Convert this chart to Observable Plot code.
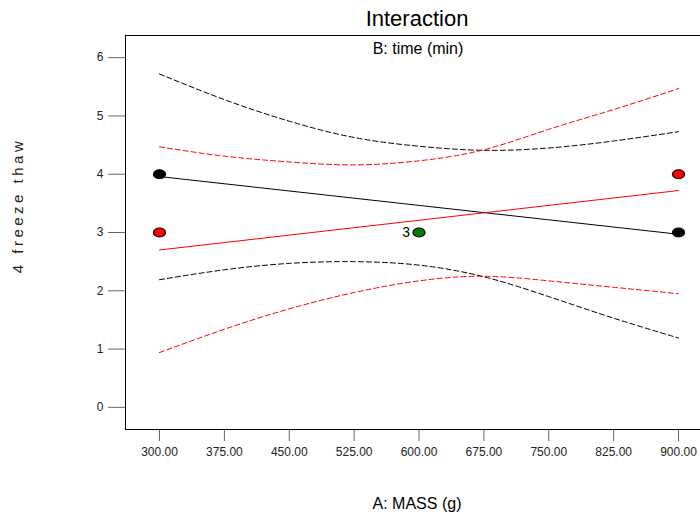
<!DOCTYPE html>
<html>
<head>
<meta charset="utf-8">
<script src="https://cdn.jsdelivr.net/npm/d3@7"></script>
<script src="https://cdn.jsdelivr.net/npm/@observablehq/plot@0.6"></script>
<style>
  html, body { margin: 0; padding: 0; background: #fff; }
  #chart { width: 700px; height: 515px; }
</style>
</head>
<body>
<div id="chart"></div>
<script>
// ---- data ----
const titleText = "Interaction";
const subtitleText = "B: time (min)";
const xLabelText = "A: MASS (g)";
const yLabelText = "4 freeze thaw";

const massTicks = [300, 375, 450, 525, 600, 675, 750, 825, 900];
const responseTicks = [0, 1, 2, 3, 4, 5, 6];

// fitted lines (B- black, B+ red)
const fitMass = [300, 900];
const fitBLow = [3.96, 2.97];
const fitBHigh = [2.70, 3.72];

// confidence bands, read at the tick positions
const bandMass = [300, 375, 450, 525, 600, 675, 750, 825, 900];
const bLowUpper = [5.72, 5.28, 4.91, 4.63, 4.48, 4.41, 4.45, 4.57, 4.73];
const bLowLower = [2.19, 2.36, 2.47, 2.50, 2.44, 2.24, 1.90, 1.53, 1.19];
const bHighUpper = [4.47, 4.31, 4.21, 4.16, 4.23, 4.42, 4.77, 5.11, 5.47];
const bHighLower = [0.94, 1.34, 1.69, 1.97, 2.17, 2.25, 2.17, 2.06, 1.95];

// design points
const obsMass = [300, 900];
const obsBLow = [4, 3];
const obsBHigh = [3, 4];
const centerMass = [600];
const centerValue = [3];
const centerCount = ["3"];

// ---- build tables ----
const xDomain = [260.7, 925.4];
const yDomain = [-0.38, 6.38];

const fitTable = [
  ...fitMass.map((m, i) => ({mass: m, value: fitBLow[i], series: "low"})),
  ...fitMass.map((m, i) => ({mass: m, value: fitBHigh[i], series: "high"}))
];
const bandTable = [];
[[bLowUpper, "lowU", "low"], [bLowLower, "lowL", "low"], [bHighUpper, "highU", "high"], [bHighLower, "highL", "high"]]
  .forEach(([arr, id, grp]) => arr.forEach((v, i) => bandTable.push({mass: bandMass[i], value: v, id, grp})));
const obsTable = [
  ...obsMass.map((m, i) => ({mass: m, value: obsBLow[i], grp: "low"})),
  ...obsMass.map((m, i) => ({mass: m, value: obsBHigh[i], grp: "high"}))
];
const centerTable = centerMass.map((m, i) => ({mass: m, value: centerValue[i], label: centerCount[i]}));

const colorOf = g => g === "low" ? "#000000" : "#ff0000";

const svg = Plot.plot({
  width: 700,
  height: 515,
  marginLeft: 125,
  marginRight: 0,
  marginTop: 35,
  marginBottom: 86,
  style: {fontFamily: "'Liberation Sans', Arial, sans-serif", fontSize: "12px", background: "#fff", color: "#222"},
  x: {domain: xDomain},
  y: {domain: yDomain},
  marks: [
    Plot.axisX(massTicks, {tickSize: 12, tickPadding: 6, tickFormat: d => d.toFixed(2), stroke: "#666", fill: "#222", label: null, fontSize: 12}),
    Plot.axisY(responseTicks, {tickSize: 17, tickPadding: 5, tickFormat: d => String(d), stroke: "#666", fill: "#222", label: null, fontSize: 12}),
    Plot.ruleX([xDomain[0]], {stroke: "#000"}),
    Plot.ruleY([yDomain[0], yDomain[1]], {stroke: "#000"}),
    Plot.line(bandTable, {x: "mass", y: "value", z: "id", stroke: d => colorOf(d.grp), strokeWidth: 1, strokeDasharray: "5,3", curve: "natural"}),
    Plot.line(fitTable, {x: "mass", y: "value", z: "series", stroke: d => colorOf(d.series), strokeWidth: 1}),
    Plot.dot(obsTable, {x: "mass", y: "value", r: 5, fill: d => colorOf(d.grp), stroke: "#000", strokeWidth: 1}),
    Plot.dot(centerTable, {x: "mass", y: "value", r: 5, fill: "#008000", stroke: "#000", strokeWidth: 1}),
    Plot.text(centerTable, {x: "mass", y: "value", text: "label", dx: -9, textAnchor: "end", fontSize: 14, fill: "#000"}),
    Plot.text([titleText], {frameAnchor: "top", dy: -17, dx: 4, lineAnchor: "middle", textAnchor: "middle", fontSize: 22, fill: "#000"}),
    Plot.text([subtitleText], {frameAnchor: "top", dy: 13, dx: 5, lineAnchor: "middle", textAnchor: "middle", fontSize: 16, fill: "#000"}),
    Plot.text([xLabelText], {frameAnchor: "bottom", dy: 74, dx: 4, lineAnchor: "middle", textAnchor: "middle", fontSize: 16, fill: "#000"}),
    Plot.text([yLabelText], {frameAnchor: "left", dx: -107, dy: -27, rotate: -90, lineAnchor: "middle", textAnchor: "middle", fontSize: 15, fill: "#222"})
  ]
});

// stylistic touches: letter-spaced y label, elliptical design-point markers
d3.select(svg).selectAll("text")
  .filter(function() { return this.textContent === yLabelText; })
  .attr("letter-spacing", "3.5");
d3.select(svg).selectAll("circle").each(function() {
  const c = d3.select(this);
  const cx = +c.attr("cx"), cy = +c.attr("cy");
  c.attr("transform", `translate(${cx},${cy}) scale(1.2,0.9) translate(${-cx},${-cy})`);
});

document.getElementById("chart").appendChild(svg);
</script>
</body>
</html>
